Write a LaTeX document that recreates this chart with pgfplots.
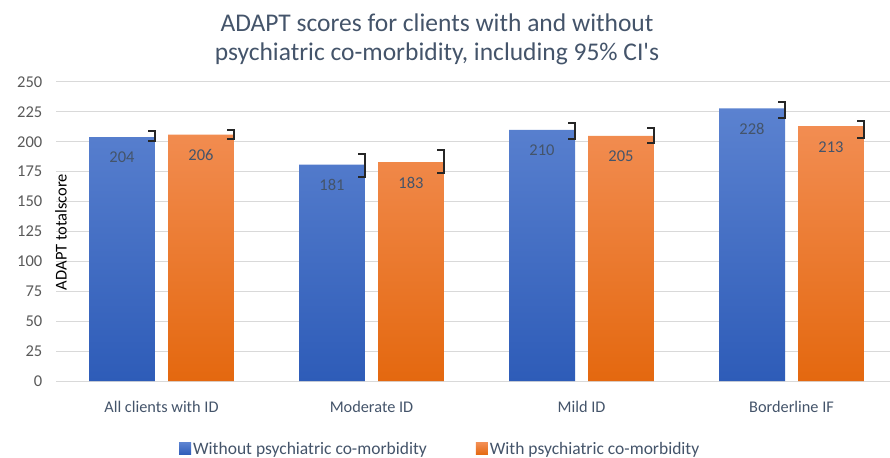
\documentclass[border=0pt]{standalone}
\usepackage{pgfplots}
\pgfplotsset{compat=1.18}
\usepackage{fontspec}
\setmainfont{Carlito}
\definecolor{txt}{HTML}{595959}
\definecolor{ttl}{HTML}{44546A}
\definecolor{gridc}{HTML}{D9D9D9}
\definecolor{bluetop}{HTML}{5B82D0}
\definecolor{bluebot}{HTML}{2E5CB8}
\definecolor{orgtop}{HTML}{F28D52}
\definecolor{orgbot}{HTML}{E4680F}
\definecolor{err}{HTML}{262626}
\begin{document}
\begin{tikzpicture}
\useasboundingbox (-56.5bp,-77bp) rectangle (833.5bp,381bp);
\begin{axis}[
  name=ax,
  scale only axis, width=833.5bp, height=299bp,
  xmin=-0.5, xmax=3.469, ymin=0, ymax=250,
  ytick={0,25,...,250},
  xtick={0,1,2,3},
  xticklabels={All clients with ID, Moderate ID, Mild ID, Borderline IF},
  axis line style={draw=none},
  major tick length=0pt,
  ymajorgrids, grid style={draw=gridc, line width=1bp},
  tick label style={font=\fontsize{16.5bp}{18bp}\selectfont, text=txt},
  xticklabel style={font=\fontsize{16.3bp}{18bp}\selectfont, text=ttl, anchor=base, yshift=-31bp, inner sep=0pt},
  yticklabel style={anchor=east, xshift=-14bp, inner sep=0pt},
  /pgf/number format/assume math mode=true,
  clip=false,
  legend style={at={(axis description cs:0.4604,-0.227)}, anchor=center, draw=none,
    font=\fontsize{17.5bp}{19bp}\selectfont, text=ttl, legend columns=2,
    /tikz/every even column/.append style={column sep=47bp}},
  legend image code/.code={\path[#1, draw=none] (0bp,-6bp) rectangle (12bp,6bp);},
]
\addplot[ybar, bar width=0.314, bar shift=-0.188, draw=none, top color=bluetop, bottom color=bluebot,
  nodes near coords, point meta=explicit symbolic,
  nodes near coords style={font=\fontsize{16.5bp}{18bp}\selectfont, text=ttl, anchor=north, inner sep=0pt, yshift=-15bp, xshift=-39.5bp}]
  coordinates {(0,204)[204] (1,181)[181] (2,210)[210] (3,228)[228]};
\addlegendentry{Without psychiatric co-morbidity}
\addplot[ybar, bar width=0.314, bar shift=0.188, draw=none, top color=orgtop, bottom color=orgbot,
  nodes near coords, point meta=explicit symbolic,
  nodes near coords style={font=\fontsize{16.5bp}{18bp}\selectfont, text=ttl, anchor=north, inner sep=0pt, yshift=-15bp, xshift=39.5bp}]
  coordinates {(0,206)[206] (1,183)[183] (2,205)[205] (3,213)[213]};
\addlegendentry{With psychiatric co-morbidity}
% CI brackets (blue bars: right edge at x-0.031; orange: x+0.345)
\addplot[err, line width=2bp, forget plot] coordinates {(-0.064,209) (-0.031,209) (-0.031,200.5) (-0.064,200.5)};
\addplot[err, line width=2bp, forget plot] coordinates {(0.312,209.5) (0.345,209.5) (0.345,202.5) (0.312,202.5)};
\addplot[err, line width=2bp, forget plot] coordinates {(0.936,190) (0.969,190) (0.969,170.5) (0.936,170.5)};
\addplot[err, line width=2bp, forget plot] coordinates {(1.312,193) (1.345,193) (1.345,174) (1.312,174)};
\addplot[err, line width=2bp, forget plot] coordinates {(1.936,216) (1.969,216) (1.969,202.5) (1.936,202.5)};
\addplot[err, line width=2bp, forget plot] coordinates {(2.312,211.5) (2.345,211.5) (2.345,199) (2.312,199)};
\addplot[err, line width=2bp, forget plot] coordinates {(2.936,233) (2.969,233) (2.969,219.5) (2.936,219.5)};
\addplot[err, line width=2bp, forget plot] coordinates {(3.312,217) (3.345,217) (3.345,203) (3.312,203)};
\end{axis}
\node[font=\fontsize{25.5bp}{29bp}\selectfont, text=ttl, anchor=base] at (380.5bp,349bp) {ADAPT scores for clients with and without};
\node[font=\fontsize{25.5bp}{29bp}\selectfont, text=ttl, anchor=base] at (380.5bp,320bp) {psychiatric co-morbidity, including 95\% CI\textquotesingle s};
\node[font=\fontsize{16.5bp}{18bp}\selectfont, rotate=90] at (4.5bp,149bp) {ADAPT totalscore};
\end{tikzpicture}
\end{document}
